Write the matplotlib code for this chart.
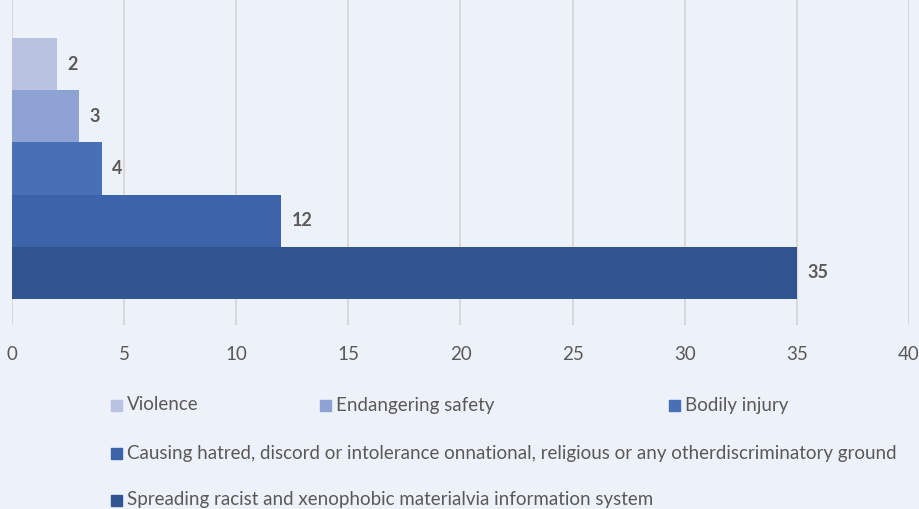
import matplotlib
matplotlib.use("Agg")
import matplotlib.pyplot as plt
from matplotlib.patches import Rectangle

plt.rcParams['font.family'] = ['Lato', 'DejaVu Sans']

# Данные по категориям (сверху вниз)
categories = [
    "Violence",
    "Endangering safety",
    "Bodily injury",
    "Causing hatred, discord or intolerance onnational, religious or any otherdiscriminatory ground",
    "Spreading racist and xenophobic materialvia information system",
]
values = [2, 3, 4, 12, 35]
colors = ["#B9C3E1", "#8FA2D4", "#4870B6", "#3B64AB", "#315591"]
x_ticks = [0, 5, 10, 15, 20, 25, 30, 35, 40]

BG = "#EDF2FA"
TEXT = "#595959"
W, H = 920, 509

fig = plt.figure(figsize=(W / 100, H / 100), dpi=100, facecolor=BG)
ax = fig.add_axes([12 / W, 184 / H, 897 / W, 325 / H], facecolor=BG)

n = len(values)
ypos = [n - 1 - i for i in range(n)]
ax.barh(ypos, values, height=1.0, color=colors, zorder=3)

for y, v in zip(ypos, values):
    ax.annotate(str(v), (v, y), xytext=(7.5, 0), textcoords="offset points",
                va="center", ha="left", fontsize=13, fontweight="bold",
                color=TEXT, zorder=4)

ax.set_xlim(0, 40)
ax.set_ylim(-1.0, n - 0.5 + 0.73)
ax.set_xticks(x_ticks)
ax.set_yticks([])
ax.tick_params(axis="x", length=0, pad=15, labelsize=13.5, labelcolor=TEXT)
ax.grid(axis="x", color="#D9D9D9", linewidth=1.5, zorder=0)
for s in ax.spines.values():
    s.set_visible(False)

# Легенда вручную — в стиле Excel
legend_pos = [(111, 405), (320, 405), (669, 405), (111, 453), (111, 500)]
for (px, py), label, c in zip(legend_pos, categories, colors):
    fig.add_artist(Rectangle((px / W, (H - py - 5.5) / H), 11 / W, 11 / H,
                             transform=fig.transFigure, color=c))
    fig.text((px + 16) / W, (H - py) / H, label, ha="left", va="center",
             fontsize=13.5, color=TEXT)

fig.savefig("out.png", dpi=100, facecolor=BG)
